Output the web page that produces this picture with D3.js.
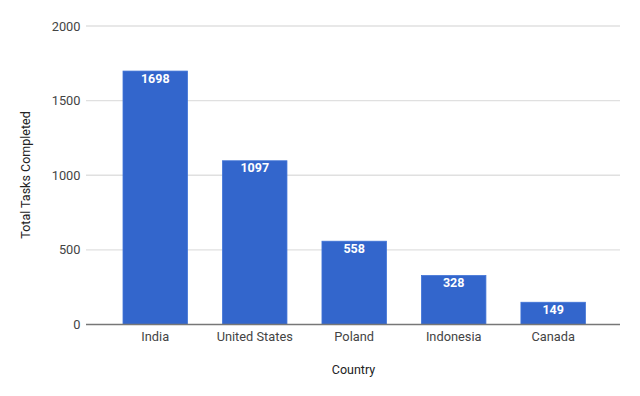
<!DOCTYPE html>
<html><head><meta charset="utf-8">
<script src="https://cdn.jsdelivr.net/npm/d3@7"></script>
<style>body{margin:0;background:#fff}svg{display:block}</style>
</head><body><svg id="c" width="640" height="396"></svg>
<script>
const countries = ["India","United States","Poland","Indonesia","Canada"];
const tasks = [1698,1097,558,328,149];
const yTicks = [0,500,1000,1500,2000];

const svg = d3.select("#c");
const font = "Roboto, Arial, sans-serif";
const x = d3.scaleBand().domain(countries).range([87.2,621.2]).paddingInner(0.352).paddingOuter(0.36);
const y = d3.scaleLinear().domain([0,2000]).range([324.5,26]);

// grid
svg.append("g").selectAll("line").data(yTicks.filter(d=>d>0)).join("line")
  .attr("x1",86).attr("x2",620).attr("y1",d=>y(d)).attr("y2",d=>y(d))
  .attr("stroke","#e0e0e0").attr("stroke-width",1.3);

// y axis labels
const ya = svg.append("g").attr("transform","translate(80.5,0)")
  .call(d3.axisLeft(y).tickValues(yTicks).tickFormat(d3.format("d")).tickSize(0).tickPadding(0));
ya.select(".domain").remove();
ya.selectAll("text").attr("font-family",font).attr("font-size",12.8).attr("fill","#444");

// bars
svg.append("g").selectAll("rect").data(countries).join("rect")
  .attr("x",d=>x(d)).attr("width",x.bandwidth())
  .attr("y",(d,i)=>y(tasks[i])).attr("height",(d,i)=>y(0)-y(tasks[i]))
  .attr("fill","#3366cc").attr("stroke","#3f73d6").attr("stroke-width",0.8);

// value labels
svg.append("g").selectAll("text").data(countries).join("text")
  .attr("x",d=>x(d)+x.bandwidth()/2).attr("y",(d,i)=>y(tasks[i])+11.5)
  .attr("text-anchor","middle").attr("font-family",font).attr("font-size",12.5)
  .attr("font-weight","bold").attr("fill","#fff").text((d,i)=>tasks[i]);

// baseline
svg.append("line").attr("x1",86).attr("x2",620).attr("y1",y(0)).attr("y2",y(0))
  .attr("stroke","#777").attr("stroke-width",1.5);

// x axis labels
const xa = svg.append("g").attr("transform",`translate(0,${y(0)})`)
  .call(d3.axisBottom(x).tickSize(0).tickPadding(7));
xa.select(".domain").remove();
xa.selectAll("text").attr("font-family",font).attr("font-size",12.8).attr("fill","#444");

// titles
svg.append("text").attr("x",353.5).attr("y",374).attr("text-anchor","middle")
  .attr("font-family",font).attr("font-size",12.5).attr("fill","#222").text("Country");
svg.append("text").attr("transform","translate(30,175) rotate(-90)").attr("text-anchor","middle")
  .attr("font-family",font).attr("font-size",12.5).attr("fill","#222").text("Total Tasks Completed");
</script></body></html>
